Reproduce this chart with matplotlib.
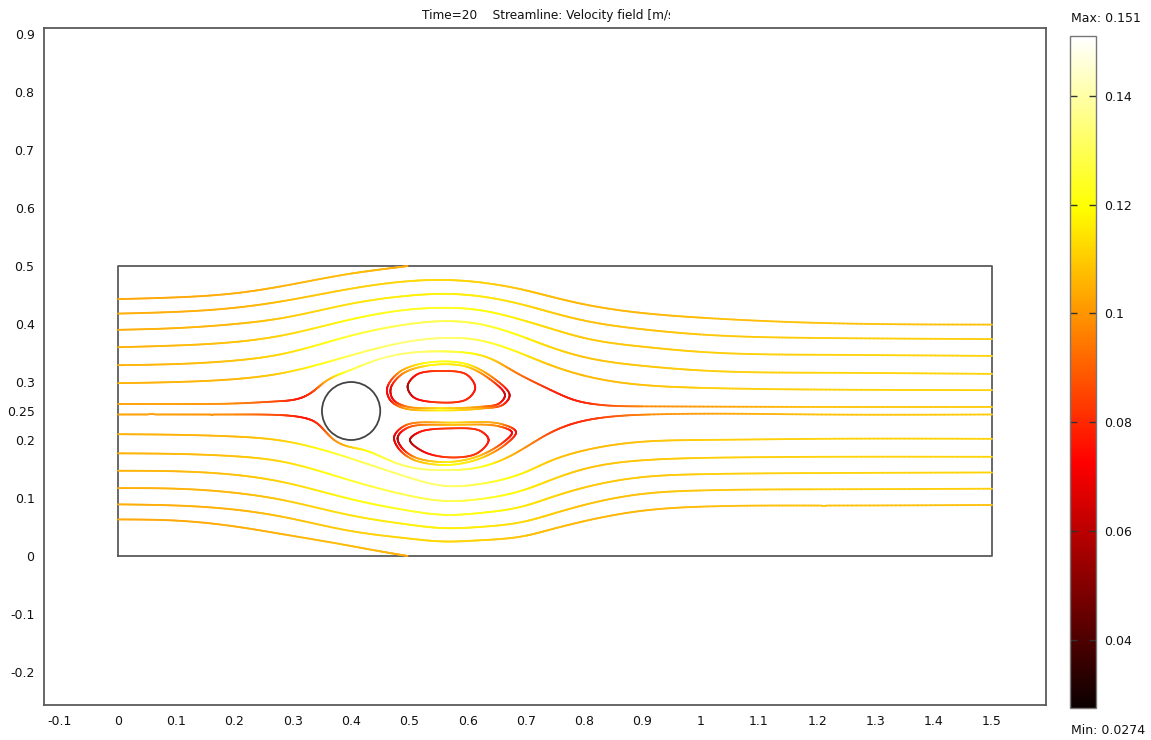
import numpy as np
import matplotlib
matplotlib.use("Agg")
import matplotlib.pyplot as plt
from matplotlib.collections import LineCollection
from matplotlib.patches import Circle
from matplotlib.colors import Normalize
from matplotlib.cm import ScalarMappable
from matplotlib.transforms import Bbox, TransformedBbox

plt.rcParams['font.family'] = ['DejaVu Sans']

# ---------------------------------------------------------------- data
time_label = "Time=20"
plot_label = "Streamline: Velocity field [m/s]"
speed_min, speed_max = 0.0274, 0.151

# channel and obstacle
channel_x = [0.0, 1.5, 1.5, 0.0, 0.0]
channel_y = [0.0, 0.0, 0.5, 0.5, 0.0]
cyl_center = (0.4, 0.25)
cyl_radius = 0.05

# shared x stations for the through-flow streamlines
xk = [0.0, 0.1, 0.2, 0.28, 0.4, 0.5, 0.56, 0.62, 0.7, 0.74, 0.8, 0.9, 1.0, 1.2, 1.5]

# upper streamlines (y at xk) and speed along them
y_l2 = [0.418, 0.421, 0.428, 0.439, 0.461, 0.474, 0.476, 0.472, 0.458, 0.448, 0.434, 0.419, 0.411, 0.402, 0.399]
y_l3 = [0.390, 0.393, 0.400, 0.410, 0.435, 0.449, 0.452, 0.448, 0.432, 0.421, 0.406, 0.391, 0.382, 0.376, 0.374]
y_l4 = [0.360, 0.363, 0.369, 0.380, 0.408, 0.425, 0.428, 0.424, 0.405, 0.393, 0.376, 0.361, 0.352, 0.347, 0.345]
y_l5 = [0.329, 0.331, 0.337, 0.348, 0.380, 0.400, 0.405, 0.400, 0.376, 0.361, 0.343, 0.328, 0.320, 0.316, 0.314]
y_l6 = [0.298, 0.300, 0.305, 0.315, 0.346, 0.370, 0.376, 0.372, 0.346, 0.330, 0.311, 0.295, 0.290, 0.287, 0.286]
s_l2 = [0.104, 0.104, 0.105, 0.107, 0.110, 0.112, 0.112, 0.111, 0.108, 0.107, 0.106, 0.106, 0.107, 0.108, 0.108]
s_l3 = [0.104, 0.105, 0.106, 0.109, 0.114, 0.117, 0.117, 0.116, 0.112, 0.110, 0.108, 0.108, 0.109, 0.110, 0.110]
s_l4 = [0.105, 0.106, 0.108, 0.111, 0.119, 0.123, 0.123, 0.121, 0.115, 0.112, 0.109, 0.109, 0.110, 0.111, 0.111]
s_l5 = [0.105, 0.106, 0.108, 0.112, 0.124, 0.129, 0.129, 0.126, 0.117, 0.112, 0.108, 0.109, 0.110, 0.111, 0.111]
s_l6 = [0.105, 0.105, 0.106, 0.110, 0.128, 0.134, 0.133, 0.128, 0.115, 0.108, 0.106, 0.108, 0.110, 0.111, 0.111]

# lower streamlines
y_l9 = [0.210, 0.209, 0.206, 0.199, 0.168, 0.135, 0.121, 0.124, 0.145, 0.163, 0.182, 0.197, 0.200, 0.202, 0.202]
y_l10 = [0.177, 0.176, 0.172, 0.163, 0.130, 0.104, 0.095, 0.098, 0.115, 0.130, 0.150, 0.165, 0.169, 0.171, 0.171]
y_l11 = [0.147, 0.146, 0.140, 0.128, 0.098, 0.078, 0.071, 0.074, 0.087, 0.100, 0.118, 0.136, 0.141, 0.143, 0.144]
y_l12 = [0.117, 0.116, 0.109, 0.097, 0.070, 0.054, 0.048, 0.050, 0.060, 0.071, 0.088, 0.107, 0.113, 0.115, 0.116]
y_l13 = [0.089, 0.087, 0.080, 0.068, 0.043, 0.030, 0.025, 0.027, 0.035, 0.045, 0.060, 0.078, 0.085, 0.087, 0.088]
s_l9 = [0.105, 0.105, 0.106, 0.110, 0.127, 0.133, 0.133, 0.128, 0.116, 0.109, 0.106, 0.108, 0.110, 0.111, 0.111]
s_l10 = [0.105, 0.106, 0.108, 0.112, 0.124, 0.129, 0.129, 0.126, 0.117, 0.112, 0.108, 0.109, 0.110, 0.111, 0.111]
s_l11 = [0.105, 0.106, 0.108, 0.111, 0.119, 0.123, 0.123, 0.121, 0.115, 0.112, 0.109, 0.109, 0.110, 0.111, 0.111]
s_l12 = [0.104, 0.105, 0.106, 0.109, 0.114, 0.117, 0.117, 0.116, 0.112, 0.110, 0.108, 0.108, 0.109, 0.110, 0.110]
s_l13 = [0.104, 0.104, 0.105, 0.107, 0.110, 0.112, 0.112, 0.111, 0.108, 0.107, 0.106, 0.106, 0.107, 0.108, 0.108]

# streamlines leaving through the top and bottom walls
x_l1 = [0.0, 0.1, 0.2, 0.28, 0.4, 0.45, 0.497]
y_l1 = [0.443, 0.446, 0.453, 0.465, 0.487, 0.494, 0.500]
s_l1 = [0.103, 0.103, 0.104, 0.105, 0.107, 0.106, 0.103]
x_l14 = [0.0, 0.1, 0.2, 0.28, 0.39, 0.45, 0.497]
y_l14 = [0.063, 0.061, 0.051, 0.038, 0.019, 0.008, 0.000]
s_l14 = [0.103, 0.103, 0.104, 0.105, 0.107, 0.106, 0.103]

# streamlines splitting at the cylinder
x_l7 = [0.0, 0.1, 0.2, 0.278, 0.312, 0.335, 0.352, 0.392, 0.45, 0.52, 0.58, 0.64, 0.68, 0.741, 0.78, 0.816, 0.9, 1.2, 1.5]
y_l7 = [0.262, 0.262, 0.263, 0.267, 0.272, 0.284, 0.298, 0.318, 0.340, 0.352, 0.352, 0.340, 0.318, 0.287, 0.270, 0.262, 0.258, 0.257, 0.257]
s_l7 = [0.102, 0.101, 0.097, 0.084, 0.075, 0.082, 0.100, 0.125, 0.135, 0.132, 0.125, 0.112, 0.095, 0.078, 0.076, 0.082, 0.097, 0.108, 0.110]
x_l8 = [0.0, 0.1, 0.2, 0.278, 0.32, 0.345, 0.364, 0.421, 0.478, 0.564, 0.62, 0.678, 0.741, 0.78, 0.827, 0.913, 1.2, 1.5]
y_l8 = [0.244, 0.244, 0.244, 0.243, 0.238, 0.226, 0.206, 0.183, 0.160, 0.148, 0.153, 0.175, 0.212, 0.228, 0.238, 0.244, 0.244, 0.244]
s_l8 = [0.102, 0.101, 0.097, 0.084, 0.075, 0.080, 0.095, 0.118, 0.130, 0.132, 0.125, 0.105, 0.085, 0.078, 0.083, 0.098, 0.108, 0.110]

# recirculation loops behind the cylinder
upper_outer_x = [0.462, 0.484, 0.535, 0.598, 0.644, 0.672, 0.661, 0.621, 0.553, 0.490, 0.467]
upper_outer_y = [0.290, 0.318, 0.334, 0.331, 0.307, 0.278, 0.261, 0.254, 0.251, 0.255, 0.269]
upper_outer_s = [0.070, 0.100, 0.122, 0.118, 0.095, 0.062, 0.080, 0.105, 0.118, 0.100, 0.075]
upper_mid_x = [0.468, 0.488, 0.536, 0.596, 0.638, 0.664, 0.654, 0.618, 0.553, 0.494, 0.472]
upper_mid_y = [0.289, 0.314, 0.329, 0.327, 0.305, 0.278, 0.263, 0.257, 0.255, 0.258, 0.270]
upper_mid_s = [0.066, 0.095, 0.118, 0.114, 0.090, 0.060, 0.078, 0.100, 0.114, 0.095, 0.072]
upper_inner_x = [0.497, 0.513, 0.553, 0.598, 0.613, 0.598, 0.547, 0.507]
upper_inner_y = [0.293, 0.313, 0.319, 0.313, 0.290, 0.270, 0.265, 0.274]
upper_inner_s = [0.055, 0.075, 0.082, 0.080, 0.074, 0.078, 0.082, 0.068]

lower_outer_x = [0.474, 0.495, 0.575, 0.656, 0.683, 0.667, 0.621, 0.564, 0.507, 0.481]
lower_outer_y = [0.206, 0.226, 0.230, 0.228, 0.214, 0.194, 0.168, 0.157, 0.166, 0.186]
lower_outer_s = [0.062, 0.090, 0.112, 0.100, 0.072, 0.085, 0.112, 0.120, 0.105, 0.075]
lower_mid_x = [0.480, 0.499, 0.575, 0.652, 0.676, 0.661, 0.618, 0.564, 0.510, 0.486]
lower_mid_y = [0.205, 0.222, 0.226, 0.224, 0.213, 0.196, 0.172, 0.162, 0.170, 0.188]
lower_mid_s = [0.058, 0.085, 0.108, 0.096, 0.068, 0.080, 0.108, 0.116, 0.100, 0.070]
lower_inner_x = [0.501, 0.518, 0.570, 0.621, 0.636, 0.616, 0.570, 0.524]
lower_inner_y = [0.200, 0.214, 0.220, 0.216, 0.200, 0.177, 0.170, 0.180]
lower_inner_s = [0.055, 0.074, 0.082, 0.080, 0.074, 0.080, 0.084, 0.070]

x_ticks = [-0.1, 0, 0.1, 0.2, 0.3, 0.4, 0.5, 0.6, 0.7, 0.8, 0.9, 1, 1.1, 1.2, 1.3, 1.4, 1.5]
x_tick_labels = ["-0.1", "0", "0.1", "0.2", "0.3", "0.4", "0.5", "0.6", "0.7", "0.8",
                 "0.9", "1", "1.1", "1.2", "1.3", "1.4", "1.5"]
y_ticks = [-0.2, -0.1, 0, 0.1, 0.2, 0.25, 0.3, 0.4, 0.5, 0.6, 0.7, 0.8, 0.9]
y_tick_labels = ["-0.2", "-0.1", "0", "0.1", "0.2", "0.25", "0.3", "0.4", "0.5",
                 "0.6", "0.7", "0.8", "0.9"]
cbar_ticks = [0.04, 0.06, 0.08, 0.1, 0.12, 0.14]
cbar_tick_labels = ["0.04", "0.06", "0.08", "0.1", "0.12", "0.14"]


# ---------------------------------------------------------------- helpers
def natural_spline(xs, ys, ss, n=40):
    """C2 natural cubic spline y(x) through the knots; scalar interpolated
    linearly in x."""
    x = np.asarray(xs, float)
    y = np.asarray(ys, float)
    h = np.diff(x)
    m = len(x)
    A = np.zeros((m, m))
    r = np.zeros(m)
    A[0, 0] = A[-1, -1] = 1.0
    for i in range(1, m - 1):
        A[i, i - 1] = h[i - 1]
        A[i, i] = 2 * (h[i - 1] + h[i])
        A[i, i + 1] = h[i]
        r[i] = 6 * ((y[i + 1] - y[i]) / h[i] - (y[i] - y[i - 1]) / h[i - 1])
    M = np.linalg.solve(A, r)
    px, py = [], []
    for i in range(m - 1):
        t = np.linspace(x[i], x[i + 1], n, endpoint=False)
        a = (x[i + 1] - t) / h[i]
        b = (t - x[i]) / h[i]
        yy = (a * y[i] + b * y[i + 1]
              + ((a ** 3 - a) * M[i] + (b ** 3 - b) * M[i + 1]) * h[i] ** 2 / 6)
        px.append(t)
        py.append(yy)
    px.append(x[-1:])
    py.append(y[-1:])
    px = np.concatenate(px)
    py = np.concatenate(py)
    return np.column_stack([px, py]), np.interp(px, x, ss)


def closed_catmull_rom(xs, ys, ss, n=30):
    """Closed centripetal Catmull-Rom loop through the knots."""
    P = np.column_stack([xs, ys]).astype(float)
    S = np.asarray(ss, float)
    k = len(P)
    pts, vals = [], []
    for i in range(k):
        p0, p1, p2, p3 = P[(i - 1) % k], P[i], P[(i + 1) % k], P[(i + 2) % k]
        t0 = 0.0
        t1 = t0 + np.linalg.norm(p1 - p0) ** 0.5
        t2 = t1 + np.linalg.norm(p2 - p1) ** 0.5
        t3 = t2 + np.linalg.norm(p3 - p2) ** 0.5
        t = np.linspace(t1, t2, n, endpoint=False)[:, None]
        a1 = (t1 - t) / (t1 - t0) * p0 + (t - t0) / (t1 - t0) * p1
        a2 = (t2 - t) / (t2 - t1) * p1 + (t - t1) / (t2 - t1) * p2
        a3 = (t3 - t) / (t3 - t2) * p2 + (t - t2) / (t3 - t2) * p3
        b1 = (t2 - t) / (t2 - t0) * a1 + (t - t0) / (t2 - t0) * a2
        b2 = (t3 - t) / (t3 - t1) * a2 + (t - t1) / (t3 - t1) * a3
        pts.append((t2 - t) / (t2 - t1) * b1 + (t - t1) / (t2 - t1) * b2)
        u = np.linspace(0, 1, n, endpoint=False)
        vals.append(S[i] + u * (S[(i + 1) % k] - S[i]))
    pts.append(P[:1])
    vals.append(S[:1])
    return np.vstack(pts), np.concatenate(vals)


norm = Normalize(vmin=speed_min, vmax=speed_max)
cmap = plt.get_cmap('hot')


def add_colored_path(ax, pts, vals, lw=1.3):
    segs = np.stack([pts[:-1], pts[1:]], axis=1)
    seg_vals = 0.5 * (vals[:-1] + vals[1:])
    rgba = cmap(norm(seg_vals))
    rgba[:, :3] = 0.96 * rgba[:, :3] + 0.04
    lc = LineCollection(segs, colors=rgba, linewidths=lw,
                        capstyle='round', joinstyle='round', zorder=3)
    ax.add_collection(lc)


# ---------------------------------------------------------------- figure
W, H = 1151, 740
fig = plt.figure(figsize=(W / 100, H / 100), dpi=100)
ax = fig.add_axes([44.3 / W, 1 - 705 / H, (1045.7 - 44.3) / W, (705 - 28.3) / H])
ax.set_xlim(-0.1265, 1.592)
ax.set_ylim(-0.257, 0.910)

frame_col = '#5a5a5a'
for sp in ax.spines.values():
    sp.set_color(frame_col)
    sp.set_linewidth(1.3)

ax.plot(channel_x, channel_y, color=frame_col, lw=1.3, zorder=2)
ax.add_patch(Circle(cyl_center, cyl_radius, fill=False, ec='#444444', lw=1.3, zorder=4))

through_lines = [
    (xk, y_l2, s_l2), (xk, y_l3, s_l3), (xk, y_l4, s_l4), (xk, y_l5, s_l5), (xk, y_l6, s_l6),
    (xk, y_l9, s_l9), (xk, y_l10, s_l10), (xk, y_l11, s_l11), (xk, y_l12, s_l12), (xk, y_l13, s_l13),
    (x_l1, y_l1, s_l1), (x_l14, y_l14, s_l14), (x_l7, y_l7, s_l7), (x_l8, y_l8, s_l8),
]
for lx, ly, ls in through_lines:
    add_colored_path(ax, *natural_spline(lx, ly, ls))

loops = [
    (upper_outer_x, upper_outer_y, upper_outer_s),
    (upper_mid_x, upper_mid_y, upper_mid_s),
    (upper_inner_x, upper_inner_y, upper_inner_s),
    (lower_outer_x, lower_outer_y, lower_outer_s),
    (lower_mid_x, lower_mid_y, lower_mid_s),
    (lower_inner_x, lower_inner_y, lower_inner_s),
]
for lx, ly, ls in loops:
    add_colored_path(ax, *closed_catmull_rom(lx, ly, ls))

ax.set_xticks(x_ticks)
ax.set_xticklabels(x_tick_labels)
ax.set_yticks(y_ticks)
ax.set_yticklabels(y_tick_labels)
ax.tick_params(length=0, labelsize=9, colors='#111111')
ax.tick_params(axis='x', pad=7)
ax.tick_params(axis='y', pad=7)

# title, cut at the right end of its text box
title = fig.text(421.7 / W, 1 - 16 / H, time_label + "    " + plot_label,
                 ha='left', va='center', fontsize=8.75, color='#111111')
clip = TransformedBbox(Bbox([[0, 0], [670 / W, 1]]), fig.transFigure)
title.set_clip_box(clip)
title.set_clip_on(True)

# colour bar
cax = fig.add_axes([1070 / W, 1 - 708.3 / H, 26 / W, (708.3 - 36) / H])
cb = fig.colorbar(ScalarMappable(norm=norm, cmap=cmap), cax=cax)
cb.set_ticks(cbar_ticks)
cb.set_ticklabels(cbar_tick_labels)
cb.outline.set_edgecolor('#777777')
cb.outline.set_linewidth(1.0)
cax.tick_params(axis='y', direction='in', left=True, right=True, length=5,
                width=1.0, color='#333333', labelsize=9, pad=6, labelcolor='#111111')

fig.text(1071 / W, 1 - 18 / H, "Max: %.3f" % speed_max, ha='left', va='center',
         fontsize=9, color='#111111')
fig.text(1071 / W, 1 - 730 / H, "Min: %.4f" % speed_min, ha='left', va='center',
         fontsize=9, color='#111111')

fig.savefig("out.png", dpi=100)
